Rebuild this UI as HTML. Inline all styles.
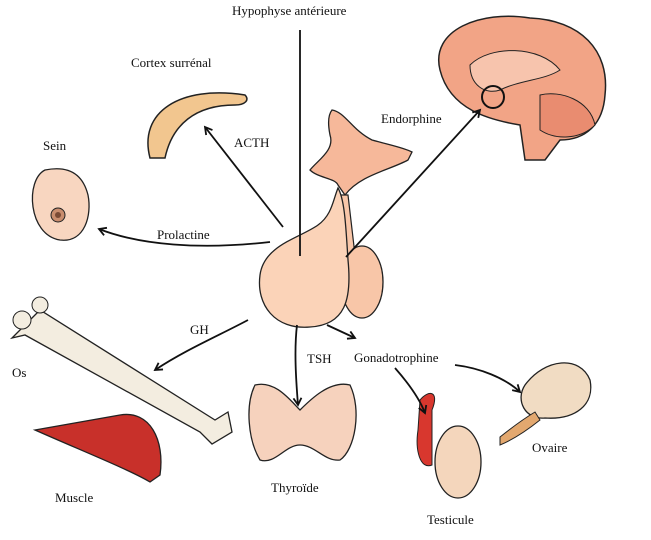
<!DOCTYPE html>
<html><head><meta charset="utf-8"><style>
body{margin:0;background:#fff;width:651px;height:540px;overflow:hidden}
svg{display:block}
text{font-family:"Liberation Serif",serif;font-size:13px;fill:#111}
</style></head><body>
<svg width="651" height="540" viewBox="0 0 651 540">
<defs><marker id="a" markerWidth="10" markerHeight="10" refX="8" refY="5" orient="auto" markerUnits="userSpaceOnUse"><path d="M1,1 L8,5 L1,9" fill="none" stroke="#111" stroke-width="1.8"/></marker></defs>
<!-- brain -->
<path d="M440,70 C430,30 480,10 530,18 C580,20 610,50 605,95 C603,125 585,140 560,140 L545,160 L525,160 L520,125 C490,120 450,110 440,70Z" fill="#f2a486" stroke="#222" stroke-width="1.5"/>
<path d="M470,65 C490,45 540,45 560,70 C545,80 520,80 500,90 C485,95 470,85 470,65Z" fill="#f7c4ad" stroke="#222"/>
<path d="M540,95 C560,90 590,100 595,125 C580,140 555,140 540,130Z" fill="#e98c70" stroke="#222"/>
<circle cx="493" cy="97" r="11" fill="none" stroke="#111" stroke-width="2"/>
<!-- adrenal -->
<path d="M150,158 C138,112 180,85 245,95 C250,100 245,105 235,105 C195,105 172,125 165,158Z" fill="#f2c68f" stroke="#222" stroke-width="1.5"/>
<!-- breast -->
<path d="M45,170 C25,180 28,235 60,240 C85,243 92,215 88,195 C83,175 70,165 45,170Z" fill="#f8d6c0" stroke="#222" stroke-width="1.3"/>
<circle cx="58" cy="215" r="7" fill="#c98d6e" stroke="#222"/><circle cx="58" cy="215" r="3" fill="#7a4a35"/>
<!-- pituitary -->
<path d="M332,110 C345,112 352,130 372,140 C390,145 405,148 412,152 L408,160 C390,170 360,175 345,195 L338,185 C335,178 318,178 310,170 C318,160 335,150 330,135 C328,125 328,115 332,110Z" fill="#f6b89a" stroke="#222" stroke-width="1.3"/>
<path d="M348,195 L355,255 L345,260 L338,195Z" fill="#f8c6a8" stroke="#222" stroke-width="1.2"/>
<ellipse cx="362" cy="282" rx="21" ry="36" fill="#f8c6a8" stroke="#222" stroke-width="1.3"/>
<path d="M338,188 C345,200 346,230 348,260 C352,300 345,325 310,327 C275,330 256,305 260,275 C264,245 300,238 318,225 C332,215 333,200 338,188Z" fill="#fbd3b8" stroke="#222" stroke-width="1.3"/>
<!-- bone -->
<path d="M25,325 L40,310 L215,420 L228,412 L232,432 L212,444 L200,432 L25,335 L12,338 Z" fill="#f3ede0" stroke="#222" stroke-width="1.3"/>
<circle cx="22" cy="320" r="9" fill="#f3ede0" stroke="#222"/><circle cx="40" cy="305" r="8" fill="#f3ede0" stroke="#222"/>
<!-- muscle -->
<path d="M35,430 L120,415 C150,410 165,440 160,475 L150,482 C130,470 80,450 35,430Z" fill="#c8302a" stroke="#222" stroke-width="1.3"/>
<!-- thyroid -->
<path d="M255,385 C275,380 290,400 300,410 C310,400 330,380 350,385 C362,410 355,450 340,460 C325,462 315,445 300,445 C285,445 275,465 260,460 C248,440 245,405 255,385Z" fill="#f6d2bd" stroke="#222" stroke-width="1.3"/>
<!-- testis -->
<path d="M420,400 C428,390 440,390 432,410 L432,465 C420,470 415,450 418,430Z" fill="#d8372e" stroke="#222"/>
<ellipse cx="458" cy="462" rx="23" ry="36" fill="#f4d6bc" stroke="#222" stroke-width="1.3"/>
<!-- ovary -->
<path d="M525,385 C545,358 580,355 590,380 C595,405 575,420 545,418 C525,420 515,400 525,385Z" fill="#f1dcc3" stroke="#222" stroke-width="1.3"/>
<path d="M500,437 C515,425 525,418 535,412 L540,420 C525,432 512,440 500,445Z" fill="#e3a86f" stroke="#222"/>
<!-- lines -->
<g fill="none" stroke="#111" stroke-width="1.8">
<line x1="300" y1="30" x2="300" y2="256"/>
<path d="M283,227 L205,127" marker-end="url(#a)"/>
<path d="M270,242 C200,250 140,245 99,229" marker-end="url(#a)"/>
<path d="M346,257 L480,110" marker-end="url(#a)"/>
<path d="M248,320 C220,335 185,350 155,370" marker-end="url(#a)"/>
<path d="M297,325 C294,350 296,380 298,405" marker-end="url(#a)"/>
<path d="M327,325 L355,338" marker-end="url(#a)"/>
<path d="M395,368 C410,385 420,400 425,413" marker-end="url(#a)"/>
<path d="M455,365 C480,368 505,378 520,392" marker-end="url(#a)"/>
</g>
<text x="232" y="15">Hypophyse antérieure</text>
<text x="131" y="67">Cortex surrénal</text>
<text x="43" y="150">Sein</text>
<text x="234" y="147">ACTH</text>
<text x="381" y="123">Endorphine</text>
<text x="157" y="239">Prolactine</text>
<text x="190" y="334">GH</text>
<text x="12" y="377">Os</text>
<text x="307" y="363">TSH</text>
<text x="354" y="362">Gonadotrophine</text>
<text x="271" y="492">Thyroïde</text>
<text x="55" y="502">Muscle</text>
<text x="427" y="524">Testicule</text>
<text x="532" y="452">Ovaire</text>
</svg>
</body></html>
